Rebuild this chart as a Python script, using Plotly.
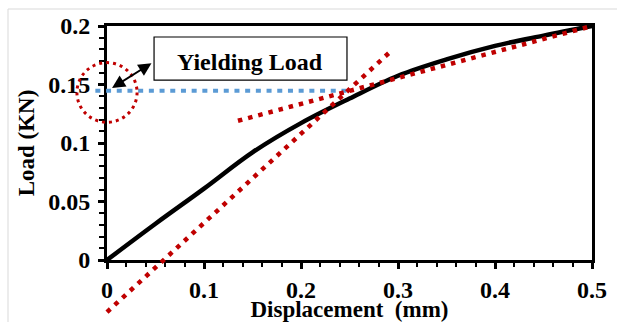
import plotly.graph_objects as go

# ---- data ----
disp = [0, 0.05, 0.1, 0.15, 0.2, 0.25, 0.3, 0.35, 0.4, 0.45, 0.5]
load = [0, 0.031, 0.061, 0.092, 0.117, 0.138, 0.1575, 0.1715, 0.183, 0.1918, 0.2]

tangent1_x = [0.0, 0.292]
tangent1_y = [-0.0445, 0.178]
tangent2_x = [0.135, 0.5]
tangent2_y = [0.119, 0.2]
yield_x = [-0.012, 0.247]
yield_y = [0.1447, 0.1447]

xtick_vals = [0, 0.1, 0.2, 0.3, 0.4, 0.5]
xtick_text = ["0", "0.1", "0.2", "0.3", "0.4", "0.5"]
ytick_vals = [0, 0.05, 0.1, 0.15, 0.2]
ytick_text = ["0", "0.05", "0.1", "0.15", "0.2"]

x_range = [0, 0.5]
y_range = [0, 0.2]

# ---- layout geometry ----
W, H = 617, 322
dom_x = [107 / W, 592 / W]
dom_y = [(H - 260) / H, (H - 26) / H]

sx = (x_range[1] - x_range[0]) / (dom_x[1] - dom_x[0])
sy = (y_range[1] - y_range[0]) / (dom_y[1] - dom_y[0])
x2_range = [x_range[0] - dom_x[0] * sx, x_range[1] + (1 - dom_x[1]) * sx]
y2_range = [y_range[0] - dom_y[0] * sy, y_range[1] + (1 - dom_y[1]) * sy]

FONT = "Liberation Serif, Times New Roman, serif"
RED = "#c00000"
BLUE = "#5b9bd5"

fig = go.Figure()

# anchor trace for main axes (invisible)
fig.add_trace(go.Scatter(x=[x_range[0]], y=[y_range[0]], mode="markers",
                         marker=dict(opacity=0), xaxis="x", yaxis="y",
                         showlegend=False, hoverinfo="skip"))

fig.add_trace(go.Scatter(x=yield_x, y=yield_y, mode="lines",
                         line=dict(color=BLUE, width=4, dash="5px,5.7px"),
                         xaxis="x2", yaxis="y2", showlegend=False))
fig.add_trace(go.Scatter(x=disp, y=load, mode="lines", line_shape="spline",
                         line=dict(color="black", width=4.5, smoothing=1),
                         xaxis="x2", yaxis="y2", showlegend=False))
fig.add_trace(go.Scatter(x=tangent1_x, y=tangent1_y, mode="lines",
                         line=dict(color=RED, width=4.5, dash="4.5px,6px"),
                         xaxis="x2", yaxis="y2", showlegend=False))
fig.add_trace(go.Scatter(x=tangent2_x, y=tangent2_y, mode="lines",
                         line=dict(color=RED, width=4.5, dash="4.5px,6px"),
                         xaxis="x2", yaxis="y2", showlegend=False))

axis_common = dict(showgrid=False, zeroline=False, showline=True, linecolor="black",
                   linewidth=3, mirror=True, ticks="outside", ticklen=6, tickwidth=3,
                   tickcolor="black", automargin=False,
                   tickfont=dict(family=FONT, size=24, color="black", weight="bold"))

fig.update_layout(
    width=W, height=H, template="none",
    margin=dict(l=0, r=0, t=0, b=0),
    paper_bgcolor="white", plot_bgcolor="rgba(0,0,0,0)",
    xaxis=dict(domain=dom_x, range=x_range, anchor="y", tickvals=xtick_vals,
               ticktext=xtick_text,
               minor=dict(dtick=0.02, ticks="outside", ticklen=4, tickwidth=2, tickcolor="black"),
               title=dict(text="Displacement  (mm)", standoff=2,
                          font=dict(family=FONT, size=23, color="black", weight="bold")),
               **axis_common),
    yaxis=dict(domain=dom_y, range=y_range, anchor="x", tickvals=ytick_vals,
               ticktext=ytick_text, ticklabelstandoff=3,
               minor=dict(dtick=0.01, ticks="outside", ticklen=5, tickwidth=2, tickcolor="black"),
               title=dict(text="Load (KN)", standoff=8,
                          font=dict(family=FONT, size=23, color="black", weight="bold")),
               **axis_common),
    xaxis2=dict(domain=[0, 1], range=x2_range, anchor="y2", visible=False, fixedrange=True),
    yaxis2=dict(domain=[0, 1], range=y2_range, anchor="x2", visible=False, fixedrange=True),
)

# outer light border
fig.add_shape(type="rect", xref="paper", yref="paper", x0=8 / W, x1=1.05, y0=-0.05, y1=1 - 9 / H,
              line=dict(color="#d9d9d9", width=1), fillcolor="rgba(0,0,0,0)")

# dotted circle around the yield point
fig.add_shape(type="circle", xref="x2", yref="y2",
              x0=-0.031, x1=0.031, y0=0.1432 - 0.0255, y1=0.1432 + 0.0255,
              line=dict(color=RED, width=3, dash="3px,4px"))

# label box
fig.add_shape(type="rect", xref="x2", yref="y2", x0=0.0485, x1=0.2474, y0=0.1538, y1=0.1906,
              line=dict(color="black", width=1.2), fillcolor="white")

fig.add_annotation(x=0.1474, y=0.1695, xref="x2", yref="y2", text="Yielding Load",
                   showarrow=False, font=dict(family=FONT, size=24, color="black", weight="bold"))

# double-headed arrow
fig.add_annotation(x=0.0052, y=0.147, ax=0.0474, ay=0.169, xref="x2", yref="y2",
                   axref="x2", ayref="y2", text="", showarrow=True,
                   arrowhead=2, startarrowhead=2, arrowside="end+start",
                   arrowsize=1.3, startarrowsize=1.3, arrowwidth=2, arrowcolor="black")

fig.write_html("out.html")
